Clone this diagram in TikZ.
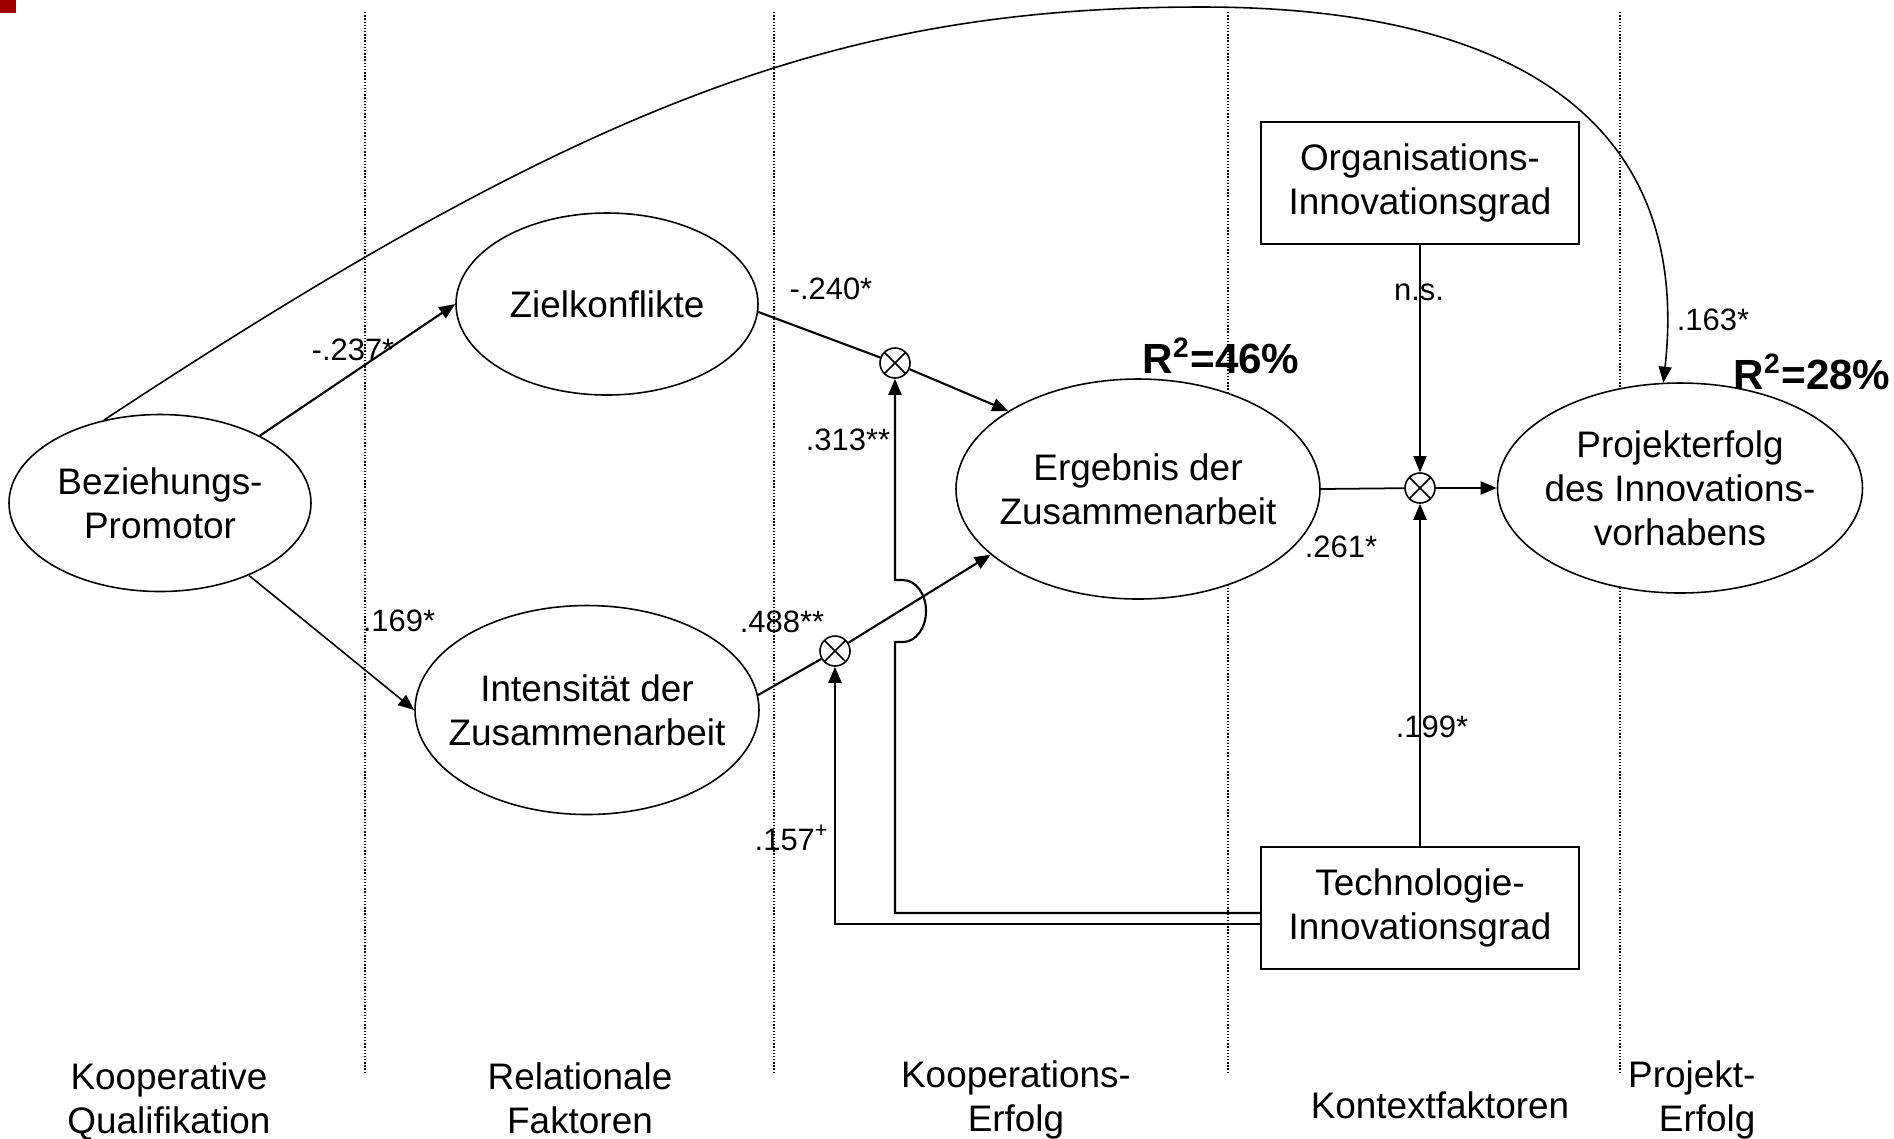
\documentclass[tikz,border=0pt]{standalone}
\usepackage{fontspec}
\setmainfont{Liberation Sans}
\usepackage{tikz}
\usetikzlibrary{shapes.geometric, arrows.meta}
\definecolor{cornerred}{RGB}{160,0,0}

\begin{document}
\begin{tikzpicture}[
    x=0.1mm, y=-0.1mm,
    latent/.style={ellipse, draw, fill=white, line width=0.45pt, inner xsep=-3mm, inner ysep=0pt, align=center, font=\fontsize{10.5}{12.5}\selectfont},
    obs/.style={rectangle, draw, fill=white, line width=0.5pt, minimum width=31.8mm, minimum height=12.2mm, align=center, font=\fontsize{10.5}{12.5}\selectfont},
    mult/.style={circle, draw, fill=white, line width=0.45pt, minimum size=3mm, inner sep=0pt,
      path picture={\draw[line width=0.45pt] (path picture bounding box.north west) -- (path picture bounding box.south east)
        (path picture bounding box.north east) -- (path picture bounding box.south west);}},
    arr/.style={-{Triangle[length=1.6mm,width=1.3mm]}, line width=0.6pt},
    coef/.style={inner sep=0pt, font=\fontsize{8.8}{10}\selectfont},
    rsq/.style={inner sep=0pt, font=\fontsize{12}{14}\selectfont\bfseries},
    layer/.style={inner sep=0pt, align=center, font=\fontsize{10.5}{12.5}\selectfont},
    sep/.style={line width=0.4pt, dash pattern=on 0.4pt off 0.5pt}
]
  \useasboundingbox (0,0) rectangle (1894,1138);
  \fill[cornerred] (0,0) rectangle (16,13);

  % --- LAYER SEPARATORS ---
  \foreach \x in {365,774,1228,1620}
    \draw[sep] (\x,12) -- (\x,1073);

  % --- CONSTRUCTS ---
  \node[latent, minimum width=30.2mm, minimum height=17.7mm] (bez) at (160,503) {Beziehungs-\\Promotor};
  \node[latent, minimum width=30.2mm, minimum height=18.2mm] (ziel) at (607,304) {Zielkonflikte};
  \node[latent, minimum width=34.4mm, minimum height=20.9mm] (int) at (587,710) {Intensität der\\Zusammenarbeit};
  \node[latent, minimum width=36.4mm, minimum height=22mm] (erg) at (1138,489) {Ergebnis der\\Zusammenarbeit};
  \node[latent, minimum width=36.5mm, minimum height=21mm] (proj) at (1680,488) {Projekterfolg\\des Innovations-\\vorhabens};

  \node[obs] (org) at (1420,183) {Organisations-\\Innovationsgrad};
  \node[obs] (tech) at (1420,908) {Technologie-\\Innovationsgrad};

  % --- INTERACTION TERMS ---
  \node[mult] (m1) at (895,363) {};
  \node[mult] (m2) at (835,651) {};
  \node[mult] (m3) at (1420,488) {};

  % --- PATHS ---
  \draw[arr] (bez) -- (ziel.west);
  \draw[arr, line width=0.45pt] (bez) -- (int.west);
  \draw[line width=0.6pt] (ziel.357) -- (m1);
  \draw[arr] (m1) -- (erg.149);
  \draw[line width=0.6pt] (int.5) -- (m2);
  \draw[arr] (m2) -- (erg.204);
  \draw[line width=0.5pt] (erg.east) -- (m3);
  \draw[arr] (m3) -- (proj);
  \draw[arr, line width=0.45pt] (org) -- (m3);
  \draw[arr] (tech) -- (m3);

  % moderator lines from the technology box
  \draw[arr] (tech.west |- 0,913) -- (895,913) -- (895,642) -- (903,642)
    arc[start angle=90, end angle=-90, x radius=23, y radius=31] -- (895,580) -- (m1);
  \draw[arr] (tech.west |- 0,924) -| (m2);

  % direct effect over the top
  \draw[arr, line width=0.45pt] (bez.124) .. controls (600,93) and (850,7) .. (1202,7)
    .. controls (1520,7) and (1692,125) .. (proj.99);

  % --- COEFFICIENTS ---
  \node[coef] (c-bz) at (353,350) {-.237*};
  \node[coef] (c-bi) at (399,621) {.169*};
  \node[coef] (c-zm) at (831,289) {-.240*};
  \node[coef] (c-t1) at (848,440) {.313**};
  \node[coef] (c-im) at (782,622) {.488**};
  \node[coef] (c-t2) at (792,838) {.157\textsuperscript{+}};
  \node[coef] (c-em) at (1341,547) {.261*};
  \node[coef] (c-om) at (1419,292) {n.s.};
  \node[coef] (c-bp) at (1713,320) {.163*};
  \node[coef] (c-tm) at (1432,727) {.199*};

  \node[rsq] (r-erg) at (1221,356) {R\textsuperscript{2}=46\%};
  \node[rsq] (r-proj) at (1812,372) {R\textsuperscript{2}=28\%};

  % --- LAYER TITLES ---
  \node[layer] (l1) at (169,1102) {Kooperative\\Qualifikation};
  \node[layer] (l2) at (580,1098) {Relationale\\Faktoren};
  \node[layer] (l3) at (1016,1100) {Kooperations-\\Erfolg};
  \node[layer] (l4) at (1440,1105) {Kontextfaktoren};
  \node[layer, anchor=east, align=right] (l5) at (1756,1100) {Projekt-\\Erfolg};
\end{tikzpicture}
\end{document}
